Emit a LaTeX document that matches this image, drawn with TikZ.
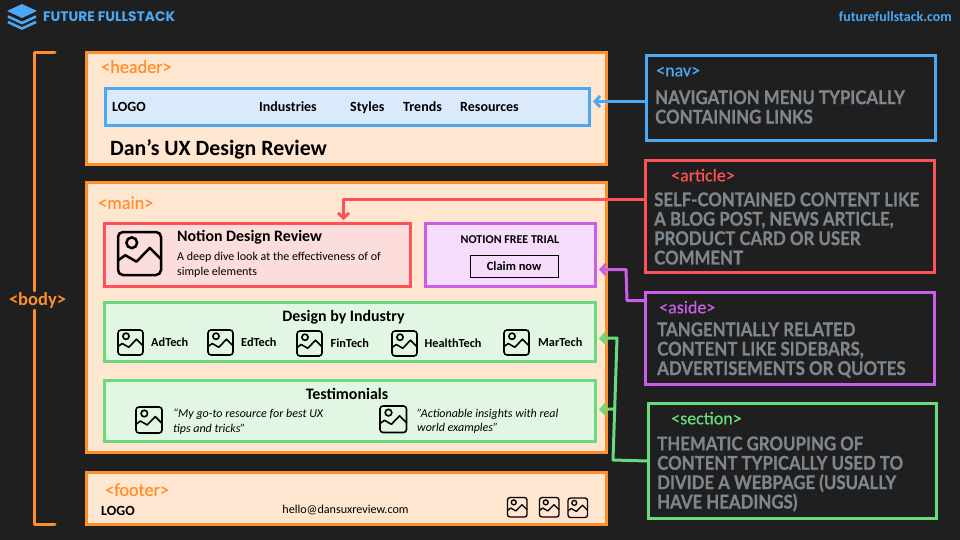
\documentclass[tikz,border=0pt]{standalone}
\usepackage{xcolor}
\usepackage{fontspec}
\setmainfont{Carlito}
\newfontfamily\brandfont{Poppins}
\newfontfamily\tagfont[FakeBold=0.5]{Carlito}
\newfontfamily\handfont[FakeStretch=0.885,FakeBold=0.8]{Lato}
\usetikzlibrary{arrows.meta, positioning, calc}
\definecolor{pagedark}{RGB}{31, 31, 31}
\definecolor{brandblue}{RGB}{74, 168, 245}
\definecolor{bodyorange}{RGB}{255, 143, 43}
\definecolor{bodyfill}{RGB}{255, 230, 208}
\definecolor{navfill}{RGB}{219, 234, 251}
\definecolor{articlered}{RGB}{255, 82, 87}
\definecolor{articlefill}{RGB}{253, 220, 220}
\definecolor{asidepurple}{RGB}{203, 94, 232}
\definecolor{asidefill}{RGB}{245, 220, 250}
\definecolor{sectiongreen}{RGB}{105, 219, 124}
\definecolor{sectionfill}{RGB}{225, 247, 228}
\definecolor{handgrey}{RGB}{125, 133, 141}
\tikzset{
    htmlbox/.style={anchor=north west, line width=3pt, inner sep=0pt},
    textitem/.style={anchor=west, inner sep=0pt, text=black, execute at begin node={\vphantom{(}}, font=\fontsize{#1}{#1}\selectfont\bfseries},
    tagtext/.style={anchor=west, inner sep=0pt, execute at begin node={\vphantom{(}}, font=\tagfont\fontsize{#1}{#1}\selectfont},
    handtext/.style={anchor=west, inner sep=0pt, align=left, text=handgrey, font=\handfont\fontsize{19}{19.4}\selectfont\bfseries},
    wire/.style={line width=3pt, line cap=round, line join=round, -{Straight Barb[length=5pt,width=11pt]}},
    pics/imgicon/.style={code={
        \draw[rounded corners=#1] (0,0) rectangle (1,1);
        \draw (0.32,0.25) circle (0.125);
        \draw[line join=round] (0,0.66) -- (0.17,0.54) -- (0.43,0.69) -- (0.74,0.37) -- (1,0.63);
    }}
}

\begin{document}
\begin{tikzpicture}[x=1pt, y=-1pt]
    \fill[pagedark] (0,0) rectangle (960,540);

    % Brand
    \fill[brandblue, line join=round] (7,11) -- (22,4) -- (37,11) -- (22,18) -- cycle;
    \draw[brandblue, line width=2.6pt] (8,16.5) -- (22,23) -- (36,16.5);
    \draw[brandblue, line width=2.6pt] (8,22) -- (22,28.5) -- (36,22);
    \node[tagtext=13.8, text=brandblue, font=\brandfont\fontsize{13.8}{13.8}\selectfont\bfseries] (brandname) at (43,16.5) {FUTURE FULLSTACK};
    \node[textitem=14, text=brandblue, anchor=east] (brandurl) at (952,17.5) {futurefullstack.com};

    % Body bracket
    \node[textitem=18.5, text=bodyorange, anchor=center] (bodylabel) at (37.5,300.5) {<body>};
    \coordinate (brackettop) at (55,52.5);
    \coordinate (bracketend) at (55,524);
    \draw[bodyorange, line width=3pt, line cap=round, line join=round] (brackettop) -| ([shift={(-3.5pt,1pt)}]bodylabel.north);
    \draw[bodyorange, line width=3pt, line cap=round, line join=round] (bracketend) -| ([shift={(-3.5pt,-1pt)}]bodylabel.south);

    % Header Box
    \node[htmlbox, draw=bodyorange, fill=bodyfill, minimum width=520pt, minimum height=112pt] (headerbox) at (85,51) {};
    \node[tagtext=18.2, text=bodyorange] (headerlabel) at (101,67.5) {<header>};
    \node[htmlbox, draw=brandblue, fill=navfill, minimum width=484pt, minimum height=37pt] (navbox) at (104,87) {};
    \node[textitem=14] (navlogo) at (112,107) {LOGO};
    \node[textitem=14] (navindustries) at (259,107) {Industries};
    \node[textitem=14] (navstyles) at (350,107) {Styles};
    \node[textitem=14] (navtrends) at (403,107) {Trends};
    \node[textitem=14] (navresources) at (460,107) {Resources};
    \node[textitem=21.8] (sitetitle) at (110,149) {Dan’s UX Design Review};

    % Main Box
    \node[htmlbox, draw=bodyorange, fill=bodyfill, minimum width=520pt, minimum height=270pt] (mainbox) at (85,181) {};
    \node[tagtext=18.2, text=bodyorange] (mainlabel) at (98,203.5) {<main>};

    % Article Box
    \node[htmlbox, draw=articlered, fill=articlefill, minimum width=306pt, minimum height=63pt] (articlebox) at (103,222) {};
    \pic[scale=43, line width=2.5pt] (articleicon) at (118,232) {imgicon=5pt};
    \node[textitem=15.9] (articletitle) at (177,237) {Notion Design Review};
    \node[anchor=north west, inner sep=0pt, align=left, text=black, font=\fontsize{12}{15.3}\selectfont] (articletext) at (177,251.5) {A deep dive look at the effectiveness of of\\simple elements};

    % Aside Box
    \node[htmlbox, draw=asidepurple, fill=asidefill, minimum width=170pt, minimum height=63pt] (asidebox) at (424,222) {};
    \node[textitem=12, anchor=center] (asidetitle) at (510,239.5) {NOTION FREE TRIAL};
    \node[anchor=north west, draw=black, line width=1.3pt, inner sep=0pt, minimum width=88pt, minimum height=22pt, text=black, font=\fontsize{12.5}{12.5}\selectfont\bfseries] (claimbutton) at (469.5,254.5) {Claim now};

    % Section Boxes
    \node[htmlbox, draw=sectiongreen, fill=sectionfill, minimum width=491pt, minimum height=59.5pt] (industrybox) at (103,300.5) {};
    \node[textitem=15.9, anchor=center] (industrytitle) at (343.5,317) {Design by Industry};
    \pic[scale=25, line width=1.6pt] (adicon) at (118,330) {imgicon=3pt};
    \node[textitem=12.3] (adtech) at (151,342.5) {AdTech};
    \pic[scale=25, line width=1.6pt] (edicon) at (208,330) {imgicon=3pt};
    \node[textitem=12.3] (edtech) at (241,342.5) {EdTech};
    \pic[scale=25, line width=1.6pt] (finicon) at (297,331) {imgicon=3pt};
    \node[textitem=12.3] (fintech) at (330.5,343.5) {FinTech};
    \pic[scale=25, line width=1.6pt] (healthicon) at (392,331) {imgicon=3pt};
    \node[textitem=12.3] (healthtech) at (424.5,343.5) {HealthTech};
    \pic[scale=25, line width=1.6pt] (maricon) at (504,330) {imgicon=3pt};
    \node[textitem=12.3] (martech) at (538,342.5) {MarTech};

    \node[htmlbox, draw=sectiongreen, fill=sectionfill, minimum width=491pt, minimum height=61pt] (reviewbox) at (103,379) {};
    \node[textitem=16, anchor=center] (reviewtitle) at (347,395) {Testimonials};
    \pic[scale=26, line width=1.6pt] (quoteoneicon) at (136,407) {imgicon=3pt};
    \node[anchor=north west, inner sep=0pt, align=left, text=black, font=\fontsize{12}{14.8}\selectfont\itshape] (quoteone) at (173,408.5) {“My go-to resource for best UX\\tips and tricks”};
    \pic[scale=26.5, line width=1.6pt] (quotetwoicon) at (380,406) {imgicon=3pt};
    \node[anchor=north west, inner sep=0pt, align=left, text=black, font=\fontsize{12}{14}\selectfont\itshape] (quotetwo) at (417,408.5) {”Actionable insights with real\\world examples”};

    % Footer Box
    \node[htmlbox, draw=bodyorange, fill=bodyfill, minimum width=520pt, minimum height=52.5pt] (footerbox) at (85,470.5) {};
    \node[tagtext=18.2, text=bodyorange] (footerlabel) at (105,490.5) {<footer>};
    \node[textitem=14] (footerlogo) at (101,511.5) {LOGO};
    \node[anchor=center, inner sep=0pt, text=black, font=\fontsize{12.1}{12.1}\selectfont] (footermail) at (345.5,510) {hello@dansuxreview.com};
    \pic[scale=19.5, line width=1.3pt] (socialone) at (507.5,497.5) {imgicon=2.5pt};
    \pic[scale=19.5, line width=1.3pt] (socialtwo) at (539.5,497.5) {imgicon=2.5pt};
    \pic[scale=19.5, line width=1.3pt] (socialthree) at (568,498) {imgicon=2.5pt};

    % Nav Label
    \node[htmlbox, draw=brandblue, minimum width=289pt, minimum height=85pt] (navcard) at (645,54) {};
    \node[tagtext=18, text=brandblue] (navlabel) at (656,71) {<nav>};
    \node[handtext] (navtext) at (655,107) {NAVIGATION MENU TYPICALLY\\CONTAINING LINKS};

    % Article Label
    \node[htmlbox, draw=articlered, minimum width=289pt, minimum height=112pt] (articlecard) at (644,159) {};
    \node[tagtext=18, text=articlered] (articlelabel) at (671,176) {<article>};
    \node[handtext] (articlenote) at (654,228.5) {SELF-CONTAINED CONTENT LIKE\\A BLOG POST, NEWS ARTICLE,\\PRODUCT CARD OR USER\\COMMENT};

    % Aside Label
    \node[htmlbox, draw=asidepurple, minimum width=289pt, minimum height=92pt] (asidecard) at (644,291) {};
    \node[tagtext=18, text=asidepurple] (asidelabel) at (659,308) {<aside>};
    \node[handtext] (asidenote) at (657,350) {TANGENTIALLY RELATED\\CONTENT LIKE SIDEBARS,\\ADVERTISEMENTS OR QUOTES};

    % Section Label
    \node[htmlbox, draw=sectiongreen, minimum width=288pt, minimum height=115pt] (sectioncard) at (647,402) {};
    \node[tagtext=18, text=sectiongreen] (sectionlabel) at (671,419) {<section>};
    \node[handtext] (sectionnote) at (657,474) {THEMATIC GROUPING OF\\CONTENT TYPICALLY USED TO\\DIVIDE A WEBPAGE (USUALLY\\HAVE HEADINGS)};

    % Arrows
    \coordinate (sectionbend) at (617,338);
    \coordinate (sectionjoin) at (615,409);
    \draw[wire, brandblue] ([yshift=-3.5pt]navcard.west) -- ([yshift=5.5pt,xshift=2pt]navbox.east);
    \draw[wire, articlered] ([yshift=17pt]articlecard.west) -| ([xshift=86pt,yshift=2pt]articlebox.north);
    \draw[wire, asidepurple] ([yshift=38pt]asidecard.west) -- ++(-17,0) -- ++(-1,-31) -- ([yshift=-14.5pt,xshift=2pt]asidebox.east);
    \draw[wire, sectiongreen] (sectioncard.west) -- ++(-34,-1) -- (sectionbend) -- ([yshift=-6.75pt,xshift=2pt]industrybox.east);
    \draw[wire, sectiongreen] (sectionjoin) -- ([yshift=1.5pt,xshift=2pt]reviewbox.east);
\end{tikzpicture}
\end{document}
